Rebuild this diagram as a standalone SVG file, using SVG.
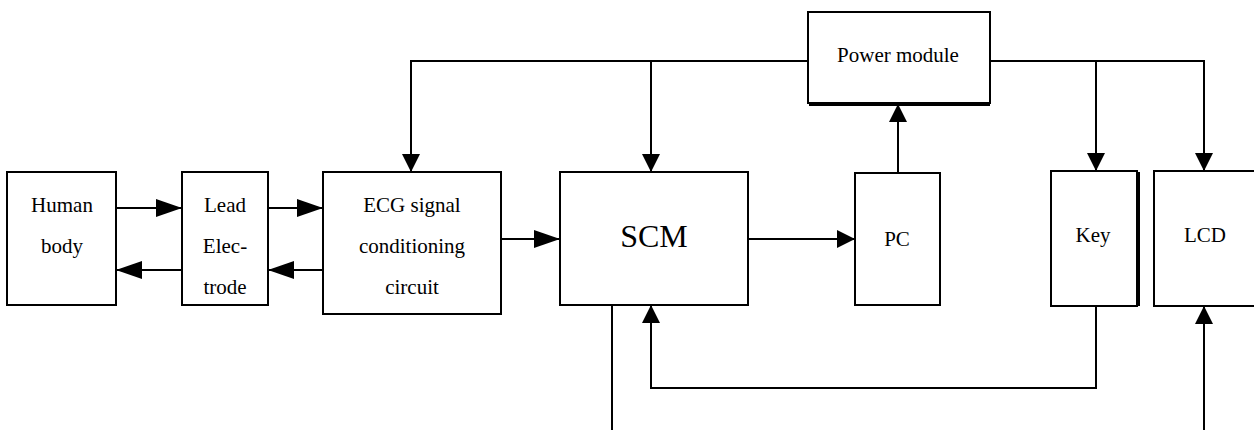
<svg xmlns="http://www.w3.org/2000/svg" width="1254" height="430" viewBox="0 0 1254 430">
<defs>
<style>
.box{fill:#fff;stroke:#000;stroke-width:2}
.ln{fill:none;stroke:#000;stroke-width:2}
.t{font-family:"Liberation Serif","Times New Roman",serif;font-size:21px;fill:#000;text-anchor:middle}
.big{font-size:32px}
</style>
<marker id="al" markerUnits="userSpaceOnUse" markerWidth="26" markerHeight="18" refX="26" refY="9" orient="auto"><path d="M0,0 L26,9 L0,18 z" fill="#000"/></marker>
<marker id="as" markerUnits="userSpaceOnUse" markerWidth="18" markerHeight="18" refX="18" refY="9" orient="auto"><path d="M0,0 L18,9 L0,18 z" fill="#000"/></marker>
</defs>
<rect width="1254" height="430" fill="#fff"/>
<g id="connectors" class="ln">
<path d="M116,208 H182" marker-end="url(#al)"/>
<path d="M182,270 H116" marker-end="url(#al)"/>
<path d="M268,208 H323" marker-end="url(#al)"/>
<path d="M323,270 H268" marker-end="url(#al)"/>
<path d="M501,239 H560" marker-end="url(#al)"/>
<path d="M748,239 H855" marker-end="url(#as)"/>
<path d="M898,173 V104" marker-end="url(#as)"/>
<path d="M808,61 H411 V172" marker-end="url(#as)"/>
<path d="M651,61 V172" marker-end="url(#as)"/>
<path d="M990,61 H1204 V171" marker-end="url(#as)"/>
<path d="M1096,61 V171" marker-end="url(#as)"/>
<path d="M1096,306 V388 H651 V305" marker-end="url(#as)"/>
<path d="M612,305 V430"/>
<path d="M1204,430 V306" marker-end="url(#as)"/>
</g>
<g id="human">
<rect class="box" x="7" y="172" width="109" height="133"/>
<text class="t" x="62" y="212">Human</text>
<text class="t" x="62" y="253">body</text>
</g>
<g id="lead">
<rect class="box" x="182" y="172" width="86" height="133"/>
<text class="t" x="225" y="212">Lead</text>
<text class="t" x="225" y="253">Elec-</text>
<text class="t" x="225" y="294">trode</text>
</g>
<g id="ecg">
<rect class="box" x="323" y="172" width="178" height="142"/>
<text class="t" x="412" y="212">ECG signal</text>
<text class="t" x="412" y="253">conditioning</text>
<text class="t" x="412" y="294">circuit</text>
</g>
<g id="scm">
<rect class="box" x="560" y="172" width="188" height="133"/>
<text class="t big" x="654" y="247">SCM</text>
</g>
<g id="pc">
<rect class="box" x="855" y="173" width="85" height="132"/>
<text class="t" x="897" y="246">PC</text>
</g>
<g id="power">
<rect class="box" x="808" y="12" width="182" height="91"/>
<path class="ln" d="M809,105 H990" stroke-width="1.5"/>
<text class="t" x="898" y="62">Power module</text>
</g>
<g id="key">
<rect class="box" x="1051" y="171" width="86" height="135"/>
<path class="ln" d="M1139,172 V306" stroke-width="1.5"/>
<text class="t" x="1093" y="242">Key</text>
</g>
<g id="lcd">
<rect class="box" x="1154" y="171" width="110" height="135"/>
<text class="t" x="1205" y="242">LCD</text>
</g>
</svg>
